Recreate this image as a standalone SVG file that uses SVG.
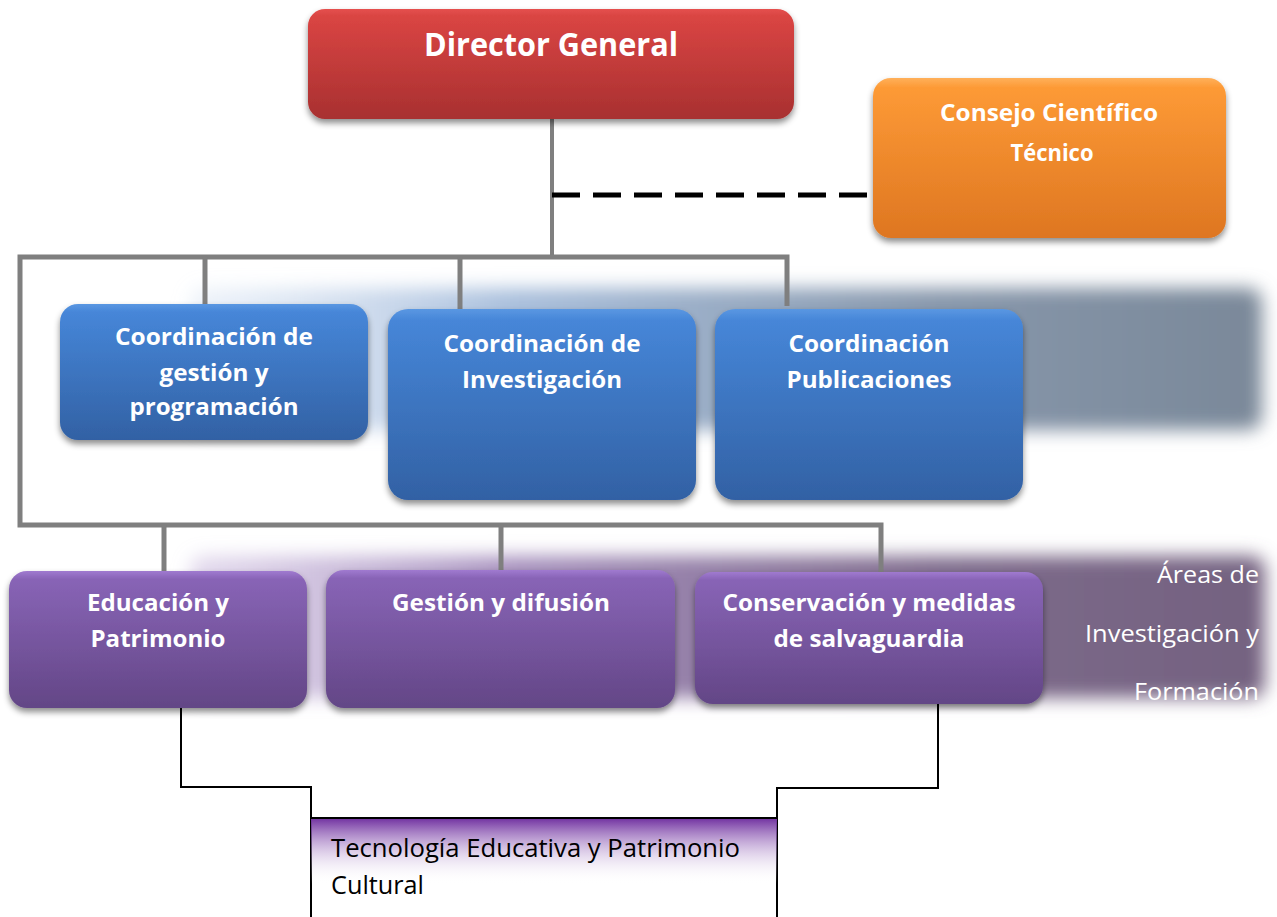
<svg xmlns="http://www.w3.org/2000/svg" width="1277" height="917" viewBox="0 0 1277 917">
<defs>
  <linearGradient id="gRed" x1="0" y1="0" x2="0" y2="1">
    <stop offset="0" stop-color="#e5514f"/>
    <stop offset="0.06" stop-color="#da4543"/>
    <stop offset="1" stop-color="#a83030"/>
  </linearGradient>
  <linearGradient id="gOrange" x1="0" y1="0" x2="0" y2="1">
    <stop offset="0" stop-color="#ffb05a"/>
    <stop offset="0.06" stop-color="#fd9a36"/>
    <stop offset="1" stop-color="#de7621"/>
  </linearGradient>
  <linearGradient id="gBlue" x1="0" y1="0" x2="0" y2="1">
    <stop offset="0" stop-color="#5a97e2"/>
    <stop offset="0.06" stop-color="#4686d8"/>
    <stop offset="1" stop-color="#3261a4"/>
  </linearGradient>
  <linearGradient id="gPurple" x1="0" y1="0" x2="0" y2="1">
    <stop offset="0" stop-color="#a07ad0"/>
    <stop offset="0.06" stop-color="#8864b6"/>
    <stop offset="1" stop-color="#634686"/>
  </linearGradient>
  <linearGradient id="gBandBlue" x1="0" y1="0" x2="1" y2="0">
    <stop offset="0" stop-color="#c8d8ee" stop-opacity="0.3"/>
    <stop offset="0.3" stop-color="#a9bfdc"/>
    <stop offset="0.7" stop-color="#8797ab"/>
    <stop offset="1" stop-color="#7a8899"/>
  </linearGradient>
  <linearGradient id="gBandPurple" x1="0" y1="0" x2="1" y2="0">
    <stop offset="0" stop-color="#c8b6dc" stop-opacity="0.5"/>
    <stop offset="0.3" stop-color="#a690bd"/>
    <stop offset="0.7" stop-color="#7d6a8b"/>
    <stop offset="1" stop-color="#746280"/>
  </linearGradient>
  <linearGradient id="gTec" x1="0" y1="0" x2="0" y2="1">
    <stop offset="0" stop-color="#7030a0"/>
    <stop offset="1" stop-color="#ffffff" stop-opacity="0"/>
  </linearGradient>
  <filter id="shadow" x="-10%" y="-10%" width="120%" height="130%">
    <feDropShadow dx="0" dy="4" stdDeviation="3" flood-color="#000" flood-opacity="0.45"/>
  </filter>
  <filter id="blur" x="-5%" y="-20%" width="110%" height="140%">
    <feGaussianBlur stdDeviation="9"/>
  </filter>
  <style>
    .t { font-family: "Open Sans", "Noto Sans", "Liberation Sans", sans-serif; font-weight: bold; fill: #ffffff; text-anchor: middle; font-size: 24px; }
    .r { font-family: "Open Sans", "Noto Sans", "Liberation Sans", sans-serif; fill: #ffffff; text-anchor: end; font-size: 23px; }
    .k { font-family: "Open Sans", "Noto Sans", "Liberation Sans", sans-serif; fill: #000000; font-size: 25px; }
    .gray { stroke: #7f7f7f; stroke-width: 5; fill: none; }
    .blk { stroke: #000; stroke-width: 2; fill: none; }
  </style>
</defs>
<rect width="1277" height="917" fill="#ffffff"/>

<g id="bands">
  <rect x="190" y="288" width="1072" height="142" rx="14" fill="url(#gBandBlue)" filter="url(#blur)"/>
  <rect x="190" y="556" width="1075" height="142" rx="14" fill="url(#gBandPurple)" filter="url(#blur)"/>
</g>

<g id="connectors">
  <line class="gray" x1="552" y1="119" x2="552" y2="257" style="stroke-width:4"/>
  <line x1="552" y1="195" x2="873" y2="195" stroke="#000" stroke-width="5" stroke-dasharray="28 13"/>
  <polyline class="gray" points="787,306 787,257 20,257 20,525 881,525 881,576"/>
  <line class="gray" x1="205" y1="257" x2="205" y2="305"/>
  <line class="gray" x1="460" y1="257" x2="460" y2="309"/>
  <line class="gray" x1="164" y1="525" x2="164" y2="572"/>
  <line class="gray" x1="501" y1="525" x2="501" y2="571"/>
  <polyline class="blk" points="181,700 181,787 311,787 311,917"/>
  <polyline class="blk" points="938,700 938,788 777,788 777,917"/>
</g>

<g id="director">
  <rect x="308" y="9" width="486" height="110" rx="17" fill="url(#gRed)" filter="url(#shadow)"/>
  <text class="t" x="551" y="56" style="font-size:32px" textLength="254" lengthAdjust="spacingAndGlyphs">Director General</text>
</g>

<g id="consejo">
  <rect x="873" y="78" width="353" height="160" rx="18" fill="url(#gOrange)" filter="url(#shadow)"/>
  <text class="t" x="1049" y="121" textLength="218" lengthAdjust="spacingAndGlyphs">Consejo Científico</text>
  <text class="t" x="1052" y="161" textLength="83" lengthAdjust="spacingAndGlyphs">Técnico</text>
</g>

<g id="coord-gestion">
  <rect x="60" y="304" width="308" height="136" rx="18" fill="url(#gBlue)" filter="url(#shadow)"/>
  <text class="t" x="214" y="345" textLength="198" lengthAdjust="spacingAndGlyphs">Coordinación de</text>
  <text class="t" x="214" y="381" textLength="109" lengthAdjust="spacingAndGlyphs">gestión y</text>
  <text class="t" x="214" y="415" textLength="169" lengthAdjust="spacingAndGlyphs">programación</text>
</g>

<g id="coord-investigacion">
  <rect x="388" y="309" width="308" height="191" rx="20" fill="url(#gBlue)" filter="url(#shadow)"/>
  <text class="t" x="542" y="352" textLength="197" lengthAdjust="spacingAndGlyphs">Coordinación de</text>
  <text class="t" x="542" y="388" textLength="160" lengthAdjust="spacingAndGlyphs">Investigación</text>
</g>

<g id="coord-publicaciones">
  <rect x="715" y="309" width="308" height="191" rx="20" fill="url(#gBlue)" filter="url(#shadow)"/>
  <text class="t" x="869" y="352" textLength="161" lengthAdjust="spacingAndGlyphs">Coordinación</text>
  <text class="t" x="869" y="388" textLength="165" lengthAdjust="spacingAndGlyphs">Publicaciones</text>
</g>

<g id="educacion">
  <rect x="9" y="571" width="298" height="137" rx="18" fill="url(#gPurple)" filter="url(#shadow)"/>
  <text class="t" x="158" y="611" textLength="142" lengthAdjust="spacingAndGlyphs">Educación y</text>
  <text class="t" x="158" y="647" textLength="135" lengthAdjust="spacingAndGlyphs">Patrimonio</text>
</g>

<g id="gestion-difusion">
  <rect x="326" y="570" width="349" height="138" rx="18" fill="url(#gPurple)" filter="url(#shadow)"/>
  <text class="t" x="501" y="611" textLength="218" lengthAdjust="spacingAndGlyphs">Gestión y difusión</text>
</g>

<g id="conservacion">
  <rect x="695" y="572" width="348" height="132" rx="18" fill="url(#gPurple)" filter="url(#shadow)"/>
  <text class="t" x="869" y="611" textLength="293" lengthAdjust="spacingAndGlyphs">Conservación y medidas</text>
  <text class="t" x="869" y="647" textLength="191" lengthAdjust="spacingAndGlyphs">de salvaguardia</text>
</g>

<g id="areas-label">
  <text class="r" x="1259" y="583" textLength="102" lengthAdjust="spacingAndGlyphs">Áreas de</text>
  <text class="r" x="1259" y="642" textLength="174" lengthAdjust="spacingAndGlyphs">Investigación y</text>
  <text class="r" x="1259" y="700" textLength="125" lengthAdjust="spacingAndGlyphs">Formación</text>
</g>

<g id="tecnologia">
  <rect x="311" y="818" width="466" height="66" fill="url(#gTec)"/>
  <line class="blk" x1="311" y1="818" x2="777" y2="818"/>
  <text class="k" x="331" y="857" textLength="409" lengthAdjust="spacingAndGlyphs">Tecnología Educativa y Patrimonio</text>
  <text class="k" x="331" y="894" textLength="93" lengthAdjust="spacingAndGlyphs">Cultural</text>
</g>
</svg>
